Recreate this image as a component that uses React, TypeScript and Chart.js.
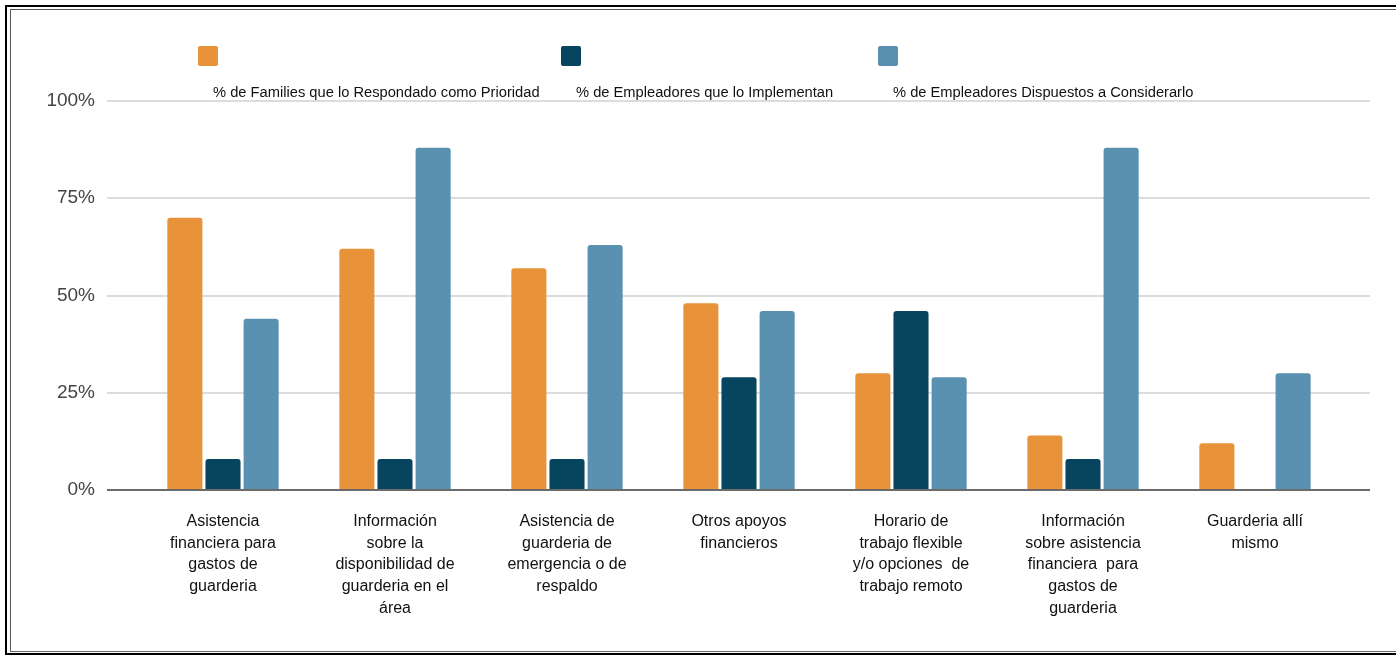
import React, { useEffect, useRef } from "react";
import { Chart, registerables } from "chart.js";

Chart.register(...registerables);

const categories: string[][] = [
  ["Asistencia", "financiera para", "gastos de", "guarderia"],
  ["Información", "sobre la", "disponibilidad de", "guarderia en el", "área"],
  ["Asistencia de", "guarderia de", "emergencia o de", "respaldo"],
  ["Otros apoyos", "financieros"],
  ["Horario de", "trabajo flexible", "y/o opciones  de", "trabajo remoto"],
  ["Información", "sobre asistencia", "financiera  para", "gastos de", "guarderia"],
  ["Guarderia allí", "mismo"],
];

const seriesNames = [
  "% de Families que lo Respondado como Prioridad",
  "% de Empleadores que lo Implementan",
  "% de Empleadores Dispuestos a Considerarlo",
];

const familiesPriority = [70, 62, 57, 48, 30, 14, 12];
const employersImplement: (number | null)[] = [8, 8, 8, 29, 46, 8, null];
const employersWilling = [44, 88, 63, 46, 29, 88, 30];

const yTicks = [0, 25, 50, 75, 100];

const seriesColors = ["#E8923A", "#07455F", "#5A91B0"];

const FONT = "'Liberation Sans', Arial, sans-serif";

const legendTextX = [213, 576, 893];

const gridPlugin = {
  id: "extGrid",
  beforeDatasetsDraw(chart: any) {
    const { ctx, chartArea, scales } = chart;
    const y = scales.y;
    ctx.save();
    yTicks.forEach((v) => {
      if (v === 0) return;
      const py = Math.round(y.getPixelForValue(v));
      ctx.strokeStyle = "#dcdcdc";
      ctx.lineWidth = 2;
      ctx.beginPath();
      ctx.moveTo(chartArea.left - 30, py);
      ctx.lineTo(chartArea.right + 29, py);
      ctx.stroke();
    });
    ctx.restore();
  },
  afterDatasetsDraw(chart: any) {
    const { ctx, chartArea, scales } = chart;
    const py = Math.round(scales.y.getPixelForValue(0));
    ctx.save();
    ctx.strokeStyle = "#6b6b6b";
    ctx.lineWidth = 2;
    ctx.beginPath();
    ctx.moveTo(chartArea.left - 30, py);
    ctx.lineTo(chartArea.right + 29, py);
    ctx.stroke();
    ctx.restore();
  },
};

const legendPlugin = {
  id: "topLegend",
  afterDraw(chart: any) {
    const { ctx } = chart;
    ctx.save();
    chart.data.datasets.forEach((ds: any, i: number) => {
      const tx = legendTextX[i];
      ctx.fillStyle = ds.backgroundColor;
      ctx.beginPath();
      (ctx as any).roundRect(tx - 15, 46, 20, 20, 2);
      ctx.fill();
      ctx.fillStyle = "#111";
      ctx.font = `14.7px ${FONT}`;
      ctx.textAlign = "left";
      ctx.textBaseline = "middle";
      ctx.fillText(ds.label, tx, 93);
    });
    ctx.restore();
  },
};

export default function App() {
  const canvasRef = useRef<HTMLCanvasElement | null>(null);

  useEffect(() => {
    document.body.style.margin = "0";
    const canvas = canvasRef.current;
    if (!canvas) return;
    const chart = new Chart(canvas, {
      type: "bar",
      data: {
        labels: categories,
        datasets: [
          { label: seriesNames[0], data: familiesPriority, backgroundColor: seriesColors[0] },
          { label: seriesNames[1], data: employersImplement, backgroundColor: seriesColors[1] },
          { label: seriesNames[2], data: employersWilling, backgroundColor: seriesColors[2] },
        ].map((d) => ({
          ...d,
          borderRadius: { topLeft: 3, topRight: 3, bottomLeft: 0, bottomRight: 0 },
          borderSkipped: "bottom",
          categoryPercentage: 0.665,
          barPercentage: 0.92,
        })) as any,
      },
      options: {
        responsive: false,
        animation: false,
        layout: { padding: { left: 0, right: 55, top: 101, bottom: 0 } },
        plugins: {
          legend: { display: false },
          tooltip: { enabled: false },
          title: { display: false },
        },
        scales: {
          x: {
            offset: true,
            grid: { display: false, drawTicks: false },
            border: { display: false },
            ticks: {
              autoSkip: false,
              maxRotation: 0,
              minRotation: 0,
              padding: 21,
              color: "#111",
              font: { family: FONT, size: 16, lineHeight: 1.35 },
            },
            afterFit: (scale: any) => {
              scale.height = 165;
            },
          },
          y: {
            min: 0,
            max: 100,
            grid: { display: false, drawTicks: false },
            border: { display: false },
            ticks: {
              stepSize: 25,
              padding: 42,
              color: "#444",
              font: { family: FONT, size: 19 },
              callback: (v: any) => `${v}%`,
            },
            afterFit: (scale: any) => {
              scale.width = 137;
            },
          },
        },
      },
      plugins: [gridPlugin, legendPlugin],
    });
    return () => chart.destroy();
  }, []);

  return (
    <div style={{ position: "relative", width: 1396, height: 655, overflow: "hidden", background: "#fff" }}>
      <canvas ref={canvasRef} width={1396} height={655} style={{ display: "block", position: "absolute", left: 0, top: 0 }} />
      <div style={{ position: "absolute", left: 5, top: 5, width: 1400, height: 2, background: "#000" }} />
      <div style={{ position: "absolute", left: 5, top: 5, width: 2, height: 660, background: "#000" }} />
      <div style={{ position: "absolute", left: 10, top: 9, width: 1400, height: 1, background: "#555" }} />
      <div style={{ position: "absolute", left: 10, top: 9, width: 1, height: 643, background: "#555" }} />
      <div style={{ position: "absolute", left: 10, top: 651, width: 1400, height: 1, background: "#666" }} />
      <div style={{ position: "absolute", left: 5, top: 653, width: 1400, height: 2, background: "#000" }} />
    </div>
  );
}
